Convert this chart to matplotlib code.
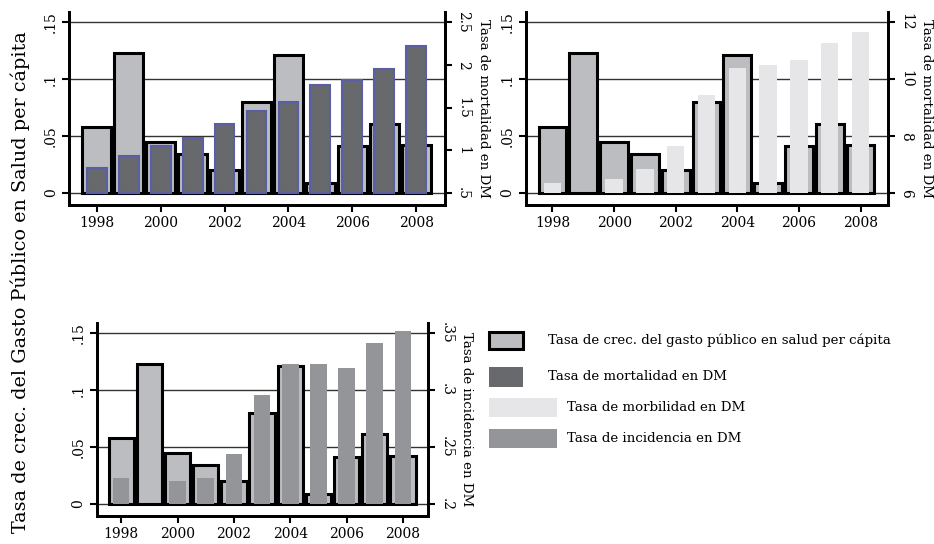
import numpy as np
import matplotlib
matplotlib.use('Agg')
import matplotlib.pyplot as plt
from matplotlib.patches import Rectangle

# ===== 数据 =====
years = [1998, 1999, 2000, 2001, 2002, 2003, 2004, 2005, 2006, 2007, 2008]
gasto = [0.058, 0.123, 0.045, 0.034, 0.020, 0.080, 0.121, 0.009, 0.041, 0.061, 0.042]
mortalidad = [0.79, 0.93, 1.05, 1.15, 1.31, 1.46, 1.57, 1.76, 1.82, 1.95, 2.22]
morbilidad = [6.36, np.nan, 6.49, 6.84, 7.65, 9.44, 10.38, 10.49, 10.69, 11.27, 11.66]
incidencia = [0.223, np.nan, 0.220, 0.223, 0.244, 0.296, 0.323, 0.323, 0.319, 0.341, 0.352]

left_ticks = [0, 0.05, 0.1, 0.15]
left_labels = ['0', '.05', '.1', '.15']
x_ticks = [1998, 2000, 2002, 2004, 2006, 2008]

c_gasto = '#bcbdc0'
c_mort = '#68696d'
c_mort_edge = '#5a5ea6'
c_morb = '#e6e6e8'
c_inc = '#939598'

plt.rcParams['font.family'] = ['DejaVu Serif']
fs = 9.6     # 标签、图例
fs_tick = 10

fig = plt.figure(figsize=(9.34, 5.44), dpi=100)

ylo, yhi = -0.0105, 0.159
xlo, xhi = 1997.13, 2008.9


def panel(rect, vals, base, top, rticks, rlabels, rtitle, color, width, edge=None, lw=0):
    ax = fig.add_axes(rect)
    ax.bar(years, gasto, width=0.9, color=c_gasto, edgecolor='black', linewidth=2.2, zorder=2)
    ax.set_xlim(xlo, xhi)
    ax.set_ylim(ylo, yhi)
    ax.set_yticks(left_ticks)
    ax.set_yticklabels(left_labels, rotation=90, va='center', fontsize=fs_tick)
    ax.set_xticks(x_ticks)
    ax.set_xticklabels([str(x) for x in x_ticks], fontsize=fs_tick)
    ax.grid(axis='y', color='#333333', linewidth=1.0)
    ax.set_axisbelow(True)
    for s in ['left', 'bottom', 'right']:
        ax.spines[s].set_linewidth(2)
    ax.spines['top'].set_visible(False)
    ax.tick_params(length=5, width=1.5, pad=3)

    # 副坐标轴
    ax2 = ax.twinx()
    k = (top - base) / 0.15
    ax2.set_ylim(base + ylo * k, base + yhi * k)
    ax2.bar(years, np.array(vals) - base, bottom=base, width=width, color=color,
            edgecolor=edge if edge else color, linewidth=lw, zorder=3)
    ax2.set_yticks(rticks)
    ax2.set_yticklabels(rlabels, rotation=-90, va='center', fontsize=fs_tick)
    ax2.set_ylabel(rtitle, rotation=-90, fontsize=fs, labelpad=14)
    ax2.tick_params(length=5, width=1.5, pad=3)
    for s in ['left', 'bottom', 'right']:
        ax2.spines[s].set_linewidth(2)
    ax2.spines['top'].set_visible(False)
    return ax, ax2


panel([0.0739, 0.6232, 0.4025, 0.3548], mortalidad, 0.5, 2.5,
      [0.5, 1, 1.5, 2, 2.5], ['.5', '1', '1.5', '2', '2.5'],
      'Tasa de mortalidad en DM', c_mort, 0.62, edge=c_mort_edge, lw=1.5)

panel([0.5628, 0.6232, 0.3882, 0.3548], morbilidad, 6, 12,
      [6, 8, 10, 12], ['6', '8', '10', '12'],
      'Tasa de mortalidad en DM', c_morb, 0.57)

panel([0.1035, 0.0515, 0.355, 0.3553], incidencia, 0.2, 0.35,
      [0.2, 0.25, 0.3, 0.35], ['.2', '.25', '.3', '.35'],
      'Tasa de incidencia en DM', c_inc, 0.59)

# ===== 总标题 =====
fig.text(20 / 934, 1 - 282 / 544, 'Tasa de crec. del Gasto Público en Salud per cápita',
         rotation=90, ha='center', va='center', fontsize=13.8)

# ===== 图例 =====
W, H = 934, 544
keys = [
    (489, 332, 34, 17, c_gasto, 'black', 2.2, 548, 'Tasa de crec. del gasto público en salud per cápita'),
    (489, 367, 34, 20, c_mort, c_mort, 0, 548, 'Tasa de mortalidad en DM'),
    (489, 398, 68, 19, c_morb, c_morb, 0, 567, 'Tasa de morbilidad en DM'),
    (489, 429, 68, 19, c_inc, c_inc, 0, 567, 'Tasa de incidencia en DM'),
]
for x, y, w, h, fc, ec, lw, tx, lab in keys:
    fig.patches.append(Rectangle((x / W, 1 - (y + h) / H), w / W, h / H, transform=fig.transFigure,
                                 facecolor=fc, edgecolor=ec, linewidth=lw))
    fig.text(tx / W, 1 - (y + h / 2) / H, lab, ha='left', va='center', fontsize=fs)

fig.savefig('out.png', dpi=100)
